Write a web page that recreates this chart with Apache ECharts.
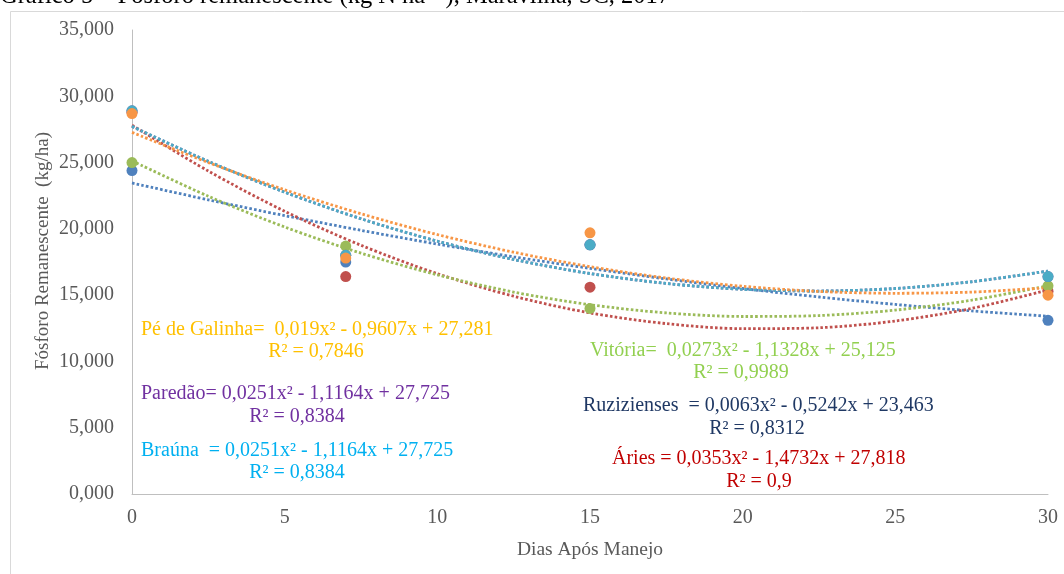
<!DOCTYPE html>
<html>
<head>
<meta charset="utf-8">
<script src="https://cdn.jsdelivr.net/npm/echarts@6/dist/echarts.min.js"></script>
<style>
  html, body { margin: 0; padding: 0; background: #fff; }
  #chart { width: 1064px; height: 574px; }
</style>
</head>
<body>
<div id="chart"></div>
<script>
// pontos observados (dias após manejo x fósforo remanescente)
const days = [0, 7, 15, 30]
const ruzizienses = [24.4, 17.5, 18.8, 13.1]
const aries = [28.8, 16.4, 15.6, 15.3]
const vitoria = [25.0, 18.7, 14.0, 15.7]
const paredao = [28.9, 18.0, 18.8, 16.4]
const brauna = [28.9, 18.0, 18.8, 16.4]
const peDeGalinha = [28.7, 17.8, 19.7, 15.0]

// linhas de tendência
const trendDays = [0, 2.5, 5, 7.5, 10, 12.5, 15, 17.5, 20, 22.5, 25, 27.5, 30]
const trendRuzizienses = [23.46, 22.19, 21.00, 19.89, 18.85, 17.89, 17.02, 16.22, 15.50, 14.86, 14.30, 13.81, 13.41]
const trendAries = [27.82, 24.36, 21.33, 18.76, 16.62, 14.92, 13.66, 12.85, 12.47, 12.54, 13.05, 14.00, 15.39]
const trendVitoria = [25.13, 22.46, 20.14, 18.17, 16.53, 15.23, 14.28, 13.66, 13.39, 13.46, 13.87, 14.62, 15.71]
const trendParedao = [27.73, 25.09, 22.77, 20.76, 19.07, 17.69, 16.63, 15.88, 15.44, 15.31, 15.50, 16.01, 16.82]
const trendBrauna = [27.73, 25.09, 22.77, 20.76, 19.07, 17.69, 16.63, 15.88, 15.44, 15.31, 15.50, 16.01, 16.82]
const trendPeDeGalinha = [27.28, 25.00, 22.95, 21.14, 19.57, 18.24, 17.15, 16.29, 15.67, 15.28, 15.14, 15.23, 15.56]

const xTicks = [0, 5, 10, 15, 20, 25, 30]
const yTicks = [0, 5, 10, 15, 20, 25, 30, 35]

const serif = '"Liberation Serif", "DejaVu Serif", serif'

const chart = echarts.init(document.getElementById('chart'))

function pairs(xs, ys) {
  return xs.map((x, i) => [x, ys[i]])
}

function pointSeries(name, ys, color) {
  return {
    name: name,
    type: 'scatter',
    data: pairs(days, ys),
    symbolSize: 11,
    itemStyle: { color: color, opacity: 1 },
    z: 3
  }
}

function trendSeries(name, ys, color) {
  return {
    name: name + ' tendência',
    type: 'line',
    data: pairs(trendDays, ys),
    smooth: 0.3,
    showSymbol: false,
    lineStyle: { color: color, width: 2.8, type: [2.6, 2.2], cap: 'butt' },
    z: 2
  }
}

function eqText(x, y, text, color, align) {
  return {
    type: 'text',
    x: x,
    y: y,
    style: {
      text: text,
      fill: color,
      font: '20px ' + serif,
      align: align || 'left',
      verticalAlign: 'middle'
    }
  }
}

const option = {
  animation: false,
  backgroundColor: '#fff',
  grid: { left: 132, right: 16, top: 30, bottom: 80 },
  xAxis: {
    type: 'value',
    min: 0,
    max: 30,
    interval: 5,
    name: 'Dias Após Manejo',
    nameLocation: 'middle',
    nameGap: 46,
    nameTextStyle: { fontFamily: serif, fontSize: 19.5, color: '#595959' },
    axisLine: { show: true, lineStyle: { color: '#bfbfbf', width: 1 } },
    axisTick: { show: false },
    splitLine: { show: false },
    axisLabel: {
      fontFamily: serif,
      fontSize: 20,
      color: '#595959',
      margin: 14,
      customValues: xTicks
    }
  },
  yAxis: {
    type: 'value',
    min: 0,
    max: 35,
    interval: 5,
    axisLine: { show: true, lineStyle: { color: '#bfbfbf', width: 1 } },
    axisTick: { show: false },
    splitLine: { show: false },
    axisLabel: {
      fontFamily: serif,
      fontSize: 20,
      color: '#595959',
      margin: 18,
      customValues: yTicks,
      formatter: v => v.toFixed(3).replace('.', ',')
    }
  },
  graphic: [
    {
      type: 'rect',
      shape: { x: 10.5, y: 11.5, width: 1100, height: 600 },
      style: { fill: null, stroke: '#d9d9d9', lineWidth: 1 },
      silent: true
    },
    {
      type: 'text',
      x: 0,
      y: -3,
      style: {
        text: 'Gráfico 5 – Fósforo remanescente (kg N ha⁻¹), Maravilha, SC, 2017',
        fill: '#000',
        font: '24.5px ' + serif,
        verticalAlign: 'middle'
      }
    },
    {
      type: 'text',
      x: 43,
      y: 251,
      rotation: Math.PI / 2,
      style: {
        text: 'Fósforo Remanescente  (kg/ha)',
        fill: '#595959',
        font: '19px ' + serif,
        align: 'center',
        verticalAlign: 'middle'
      }
    },
    eqText(141, 330, 'Pé de Galinha=  0,019x² - 0,9607x + 27,281', '#FFC000'),
    eqText(316, 352, 'R² = 0,7846', '#FFC000', 'center'),
    eqText(141, 394, 'Paredão= 0,0251x² - 1,1164x + 27,725', '#7030A0'),
    eqText(297, 417, 'R² = 0,8384', '#7030A0', 'center'),
    eqText(141, 451, 'Braúna  = 0,0251x² - 1,1164x + 27,725', '#00B0F0'),
    eqText(297, 473, 'R² = 0,8384', '#00B0F0', 'center'),
    eqText(590, 351, 'Vitória=  0,0273x² - 1,1328x + 25,125', '#92D050'),
    eqText(741, 373, 'R² = 0,9989', '#92D050', 'center'),
    eqText(583, 406, 'Ruzizienses  = 0,0063x² - 0,5242x + 23,463', '#1F3864'),
    eqText(757, 429, 'R² = 0,8312', '#1F3864', 'center'),
    eqText(612, 459, 'Áries = 0,0353x² - 1,4732x + 27,818', '#C00000'),
    eqText(759, 482, 'R² = 0,9', '#C00000', 'center')
  ],
  series: [
    trendSeries('Ruzizienses', trendRuzizienses, '#4F81BD'),
    trendSeries('Áries', trendAries, '#C0504D'),
    trendSeries('Vitória', trendVitoria, '#9BBB59'),
    trendSeries('Paredão', trendParedao, '#8064A2'),
    trendSeries('Braúna', trendBrauna, '#4BACC6'),
    trendSeries('Pé de Galinha', trendPeDeGalinha, '#F79646'),
    pointSeries('Ruzizienses', ruzizienses, '#4F81BD'),
    pointSeries('Áries', aries, '#C0504D'),
    pointSeries('Vitória', vitoria, '#9BBB59'),
    pointSeries('Paredão', paredao, '#8064A2'),
    pointSeries('Braúna', brauna, '#4BACC6'),
    pointSeries('Pé de Galinha', peDeGalinha, '#F79646')
  ]
}

chart.setOption(option)
</script>
</body>
</html>
